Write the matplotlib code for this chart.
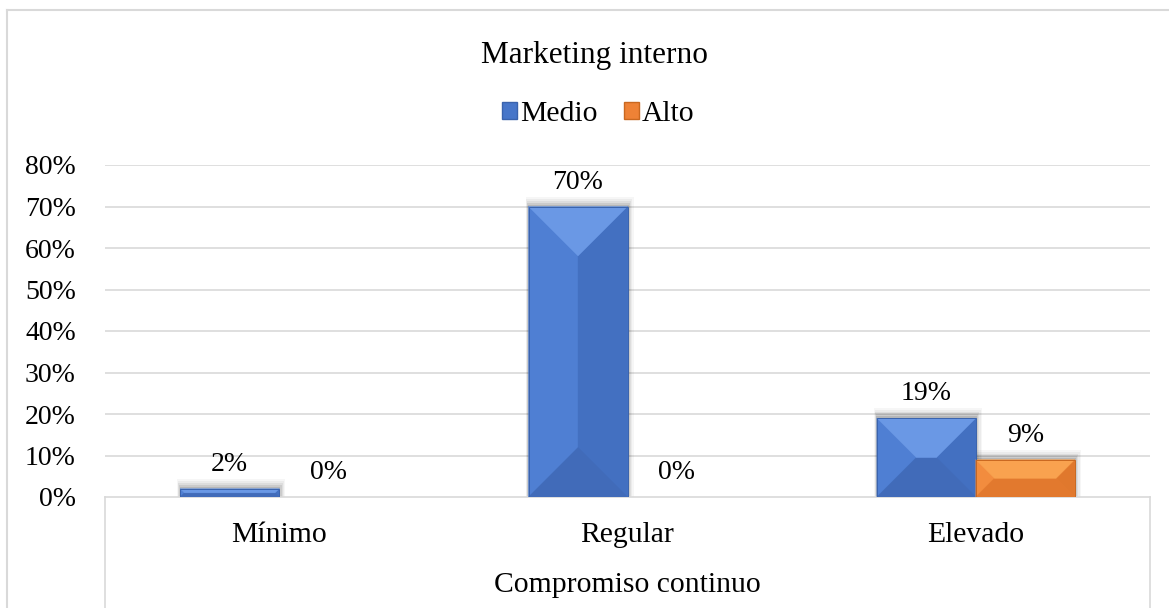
import matplotlib
matplotlib.use("Agg")
import matplotlib.pyplot as plt
from matplotlib.patches import Polygon, Rectangle, Patch
from matplotlib.lines import Line2D
import numpy as np

# ---- data ----
categories = ["Mínimo", "Regular", "Elevado"]
series_names = ["Medio", "Alto"]
medio = [0.02, 0.70, 0.19]
alto = [0.00, 0.00, 0.09]
yticks = [0, 0.1, 0.2, 0.3, 0.4, 0.5, 0.6, 0.7, 0.8]
ytick_labels = ["0%", "10%", "20%", "30%", "40%", "50%", "60%", "70%", "80%"]
title = "Marketing interno"
xlabel = "Compromiso continuo"

FONT = "Liberation Serif"
plt.rcParams["font.family"] = [FONT, "DejaVu Serif"]
FS = 20
FS2 = 21.3

W, H = 1169, 608
fig = plt.figure(figsize=(W / 100, H / 100), dpi=100)

def fx(px):
    return px / W

def fy(py):
    return 1 - py / H

L, R, T, B = 105, 1150, 165, 497
ax = fig.add_axes([fx(L), fy(B), fx(R - L), (B - T) / H])
ax.set_xlim(-0.5, 2.5)
ax.set_ylim(0, 0.8)
ax.set_zorder(1)

grid_c = "#d9d9d9"
for t in yticks[1:]:
    ax.axhline(t, color=grid_c, lw=1.2, zorder=0)
for s in ["top", "right", "left"]:
    ax.spines[s].set_visible(False)
ax.spines["bottom"].set_color(grid_c)
ax.spines["bottom"].set_linewidth(1.2)
ax.set_yticks(yticks)
ax.set_yticklabels(ytick_labels, fontsize=FS, family=FONT)
ax.tick_params(axis="y", length=0, pad=21)
ax.set_xticks([])

bw = 0.284
x = np.arange(len(categories))
# base, top, left, right, bottom, edge
colors = {"Medio": ("#4776c9", "#6a98e5", "#4f7fd3", "#4370c1", "#416bb9", "#3a63ad"),
          "Alto": ("#ee8236", "#f9a24f", "#f28c3e", "#e0782d", "#e2792e", "#c96820")}

b1 = ax.bar(x - bw, medio, width=bw, align="edge", color=colors["Medio"][0], zorder=3)
b2 = ax.bar(x, alto, width=bw, align="edge", color=colors["Alto"][0], zorder=3)

fig.canvas.draw()
to_disp = ax.transData
to_data = ax.transData.inverted()

def bevel(rect, cols):
    base, top, left, right, bottom, edge = cols
    x0, y0 = rect.get_x(), rect.get_y()
    x1, y1 = x0 + rect.get_width(), y0 + rect.get_height()
    (px0, py0), (px1, py1) = to_disp.transform([(x0, y0), (x1, y1)])
    w, h = px1 - px0, py1 - py0
    if h <= 0.5:
        return
    # soft shadow above and to the right
    for k, a in [(10, 0.035), (8, 0.045), (6, 0.06), (4, 0.08), (2, 0.1)]:
        sp = to_data.transform([(px0 - k * 0.3, py0), (px1 + k * 0.6, py1 + k)])
        ax.add_patch(Rectangle(sp[0], sp[1][0] - sp[0][0], sp[1][1] - sp[0][1],
                               facecolor="black", alpha=a, lw=0, zorder=2))
    d = min(50, w / 2, h / 2)
    def poly(pts, c):
        dp = to_data.transform(pts)
        ax.add_patch(Polygon(dp, closed=True, facecolor=c, edgecolor=c, lw=0.3, zorder=4))
    poly([(px0, py0), (px0, py1), (px0 + d, py1 - d), (px0 + d, py0 + d)], left)
    poly([(px1, py0), (px1, py1), (px1 - d, py1 - d), (px1 - d, py0 + d)], right)
    poly([(px0, py0), (px1, py0), (px1 - d, py0 + d), (px0 + d, py0 + d)], bottom)
    poly([(px0, py1), (px1, py1), (px1 - d, py1 - d), (px0 + d, py1 - d)], top)
    ax.add_patch(Rectangle((x0, y0), x1 - x0, y1 - y0, facecolor="none",
                           edgecolor=edge, lw=0.7, zorder=5))

for r in b1:
    bevel(r, colors["Medio"])
for r in b2:
    bevel(r, colors["Alto"])

for bars, vals in [(b1, medio), (b2, alto)]:
    for r, v in zip(bars, vals):
        ax.annotate(f"{round(v * 100):.0f}%", (r.get_x() + r.get_width() / 2, v),
                    xytext=(0, 17.5), textcoords="offset points", ha="center",
                    va="center", fontsize=FS, family=FONT, zorder=6)

# category labels and frame lines below the axis
for i, c in enumerate(categories):
    xd = to_disp.transform((i, 0))[0]
    fig.text(xd / W, fy(535), c, ha="center", va="center", fontsize=FS2, family=FONT)
fig.text(fx((L + R) / 2), fy(585), xlabel, ha="center", va="center", fontsize=FS2, family=FONT)
for px in (L, R):
    fig.add_artist(Line2D([fx(px), fx(px)], [fy(B), fy(608)], color=grid_c, lw=1.2))

# outer border
border_c = "#d9d9d9"
fig.add_artist(Line2D([fx(7), fx(7)], [fy(10), 0], color=border_c, lw=1.5))
fig.add_artist(Line2D([fx(7), 1], [fy(10), fy(10)], color=border_c, lw=1.5))

fig.text(fx(594), fy(56), title, ha="center", va="center", fontsize=22.5, family=FONT)

handles = [Patch(facecolor=colors[n][0], edgecolor=colors[n][5], label=n) for n in series_names]
fig.legend(handles=handles, loc="center", bbox_to_anchor=(fx(598), fy(114)), ncol=2,
           frameon=False, prop={"family": FONT, "size": FS2}, handlelength=0.5,
           handleheight=0.55, handletextpad=0.1, columnspacing=0.9)

fig.savefig("out.png", dpi=100, facecolor="white")
